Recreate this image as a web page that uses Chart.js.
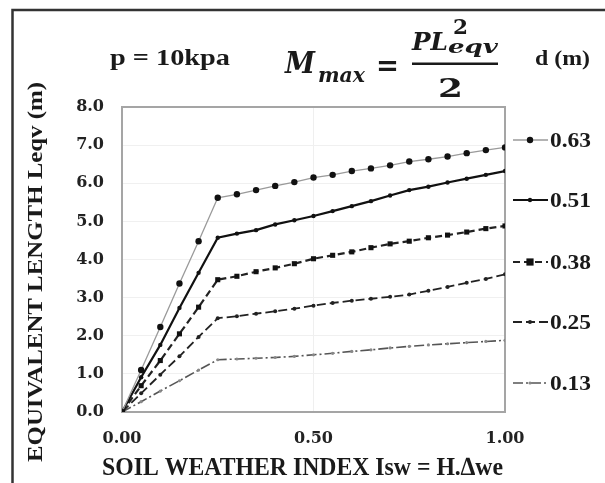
<!DOCTYPE html>
<html>
<head>
<meta charset="utf-8">
<script src="https://cdn.jsdelivr.net/npm/chart.js@4.4.1/dist/chart.umd.min.js"></script>
<style>
  html, body { margin: 0; padding: 0; background: #ffffff; }
  #wrap { width: 605px; height: 483px; position: relative; }
</style>
</head>
<body>
<div id="wrap"><canvas id="c" width="605" height="483"></canvas></div>
<script>
// ---- data ----
const xValues = [0.00,0.05,0.10,0.15,0.20,0.25,0.30,0.35,0.40,0.45,0.50,0.55,0.60,0.65,0.70,0.75,0.80,0.85,0.90,0.95,1.00];
const d063 = [0,1.10,2.23,3.37,4.48,5.62,5.71,5.82,5.93,6.03,6.15,6.22,6.32,6.39,6.47,6.57,6.63,6.70,6.79,6.87,6.94];
const d051 = [0,0.91,1.76,2.73,3.65,4.57,4.68,4.77,4.92,5.03,5.14,5.27,5.40,5.53,5.68,5.82,5.91,6.02,6.12,6.22,6.32];
const d038 = [0,0.69,1.35,2.05,2.75,3.47,3.56,3.68,3.78,3.89,4.02,4.11,4.20,4.31,4.41,4.48,4.57,4.64,4.72,4.81,4.88];
const d025 = [0,0.49,0.98,1.46,1.97,2.46,2.51,2.58,2.64,2.71,2.79,2.86,2.92,2.97,3.02,3.08,3.18,3.28,3.39,3.49,3.61];
const d013 = [0,0.27,0.55,0.82,1.10,1.37,1.39,1.41,1.43,1.46,1.50,1.54,1.59,1.63,1.68,1.72,1.76,1.79,1.82,1.85,1.88];
const seriesLabels = ['0.63','0.51','0.38','0.25','0.13'];
const xTickValues = [0, 0.5, 1];
const yTickValues = [0,1,2,3,4,5,6,7,8];
const xTitle = 'SOIL WEATHER INDEX Isw = H.\u2206we';
const yTitle = 'EQUIVALENT LENGTH Leqv (m)';
const noteText = 'p = 10kpa';
const legendTitle = 'd (m)';

const seriesValues = [d063, d051, d038, d025, d013];
const styles = [
  {borderColor:'#9a9a9a', borderWidth:1.3, borderDash:[], pointStyle:'circle', pointRadius:3.2, pointBackgroundColor:'#111'},
  {borderColor:'#111', borderWidth:2.2, borderDash:[], pointStyle:'circle', pointRadius:2.2, pointBackgroundColor:'#111'},
  {borderColor:'#222', borderWidth:2.2, borderDash:[7,4], pointStyle:'rect', pointRadius:3.6, pointBackgroundColor:'#111'},
  {borderColor:'#222', borderWidth:1.8, borderDash:[9,4], pointStyle:'circle', pointRadius:2, pointBackgroundColor:'#222'},
  {borderColor:'#555', borderWidth:1.6, borderDash:[10,3,2,3], pointStyle:'circle', pointRadius:1.6, pointBackgroundColor:'#888'}
];

const datasets = seriesValues.map((vals, i) => Object.assign({
  label: seriesLabels[i],
  data: vals.map((v, j) => ({x: xValues[j], y: v})),
  pointBorderWidth: 0,
  pointBorderColor: 'transparent',
  tension: 0,
  fill: false
}, styles[i]));

function fitText(ctx, text, x, y, w, font, align) {
  ctx.save();
  ctx.font = font;
  const m = ctx.measureText(text).width;
  const s = w / m;
  ctx.translate(x, y);
  ctx.scale(s, 1);
  ctx.textAlign = align || 'left';
  ctx.textBaseline = 'alphabetic';
  ctx.fillText(text, 0, 0);
  ctx.restore();
}

const serif = '"Liberation Serif", "Times New Roman", serif';

const decor = {
  id: 'decor',
  beforeDraw(chart) {
    const ctx = chart.ctx;
    ctx.save();
    ctx.fillStyle = '#fff';
    ctx.fillRect(0, 0, chart.width, chart.height);
    ctx.strokeStyle = '#333';
    ctx.lineWidth = 2.5;
    ctx.beginPath();
    ctx.moveTo(12.5, 483);
    ctx.lineTo(12.5, 10);
    ctx.lineTo(605, 10);
    ctx.stroke();
    ctx.restore();
  },
  beforeDatasetsDraw(chart) {
    const ctx = chart.ctx, a = chart.chartArea;
    ctx.save();
    ctx.strokeStyle = '#a5a5a5';
    ctx.lineWidth = 2;
    ctx.strokeRect(a.left, a.top, a.right - a.left, a.bottom - a.top);
    ctx.restore();
  },
  afterDraw(chart) {
    const ctx = chart.ctx;
    ctx.save();
    ctx.fillStyle = '#1a1a1a';
    // note + legend title
    fitText(ctx, noteText, 110, 65, 120, 'bold 24px ' + serif, 'left');
    fitText(ctx, legendTitle, 535, 65, 55, 'bold 20px ' + serif, 'left');
    // formula
    const fi = 'italic bold ';
    fitText(ctx, 'M', 285, 73, 30, fi + '29px "DejaVu Serif"', 'left');
    fitText(ctx, 'max', 318, 82, 47, fi + '20px "DejaVu Serif"', 'left');
    fitText(ctx, '=', 376, 75, 23, 'bold 30px "DejaVu Serif"', 'left');
    fitText(ctx, 'PL', 412, 50, 36, fi + '24px "DejaVu Serif"', 'left');
    fitText(ctx, '2', 453, 34, 15, 'bold 21px "DejaVu Serif"', 'left');
    fitText(ctx, 'eqv', 448, 53, 50, fi + '18px "DejaVu Serif"', 'left');
    ctx.fillRect(412, 62.5, 86, 2.5);
    fitText(ctx, '2', 438, 97, 25, 'bold 26px "DejaVu Serif"', 'left');
    // axis titles
    fitText(ctx, xTitle, 102, 475, 401, 'bold 26px ' + serif, 'left');
    ctx.save();
    ctx.translate(42, 272);
    ctx.rotate(-Math.PI / 2);
    fitText(ctx, yTitle, 0, 0, 380, 'bold 22px ' + serif, 'center');
    ctx.restore();
    // legend
    const ly = [140, 200, 262, 322, 383];
    chart.data.datasets.forEach((ds, i) => {
      const y = ly[i];
      ctx.save();
      ctx.strokeStyle = ds.borderColor;
      ctx.lineWidth = ds.borderWidth;
      ctx.setLineDash(ds.borderDash || []);
      ctx.beginPath();
      ctx.moveTo(513, y);
      ctx.lineTo(548, y);
      ctx.stroke();
      ctx.setLineDash([]);
      ctx.fillStyle = ds.pointBackgroundColor;
      const r = ds.pointRadius;
      if (ds.pointStyle === 'rect') {
        ctx.fillRect(530 - r, y - r, 2 * r, 2 * r);
      } else {
        ctx.beginPath();
        ctx.arc(530, y, r, 0, Math.PI * 2);
        ctx.fill();
      }
      ctx.restore();
      ctx.fillStyle = '#1a1a1a';
      fitText(ctx, ds.label, 550, y + 6.5, 41, 'bold 20px ' + serif, 'left');
    });
    ctx.restore();
  }
};

new Chart(document.getElementById('c'), {
  type: 'line',
  data: { datasets },
  options: {
    responsive: false,
    animation: false,
    events: [],
    layout: { padding: { top: 107, right: 100, left: 0, bottom: 0 } },
    plugins: { legend: { display: false }, tooltip: { enabled: false }, title: { display: false } },
    scales: {
      x: {
        type: 'linear', min: 0, max: 1,
        afterBuildTicks: s => { s.ticks = xTickValues.map(v => ({value: v})); },
        afterFit: s => { s.height = 71; },
        grid: { color: '#efefef', drawTicks: false, lineWidth: 1 },
        border: { display: false },
        ticks: {
          padding: 17, color: '#222', maxRotation: 0,
          font: { family: 'DejaVu Serif', weight: 'bold', size: 16 },
          callback: v => Number(v).toFixed(2)
        }
      },
      y: {
        type: 'linear', min: 0, max: 8,
        afterBuildTicks: s => { s.ticks = yTickValues.map(v => ({value: v})); },
        afterFit: s => { s.width = 122; },
        grid: { color: '#f0f0f0', drawTicks: false, lineWidth: 1 },
        border: { display: false },
        ticks: {
          padding: 18, color: '#222',
          font: { family: 'DejaVu Serif', weight: 'bold', size: 16 },
          callback: v => Number(v).toFixed(1)
        }
      }
    }
  },
  plugins: [decor]
});
</script>
</body>
</html>
